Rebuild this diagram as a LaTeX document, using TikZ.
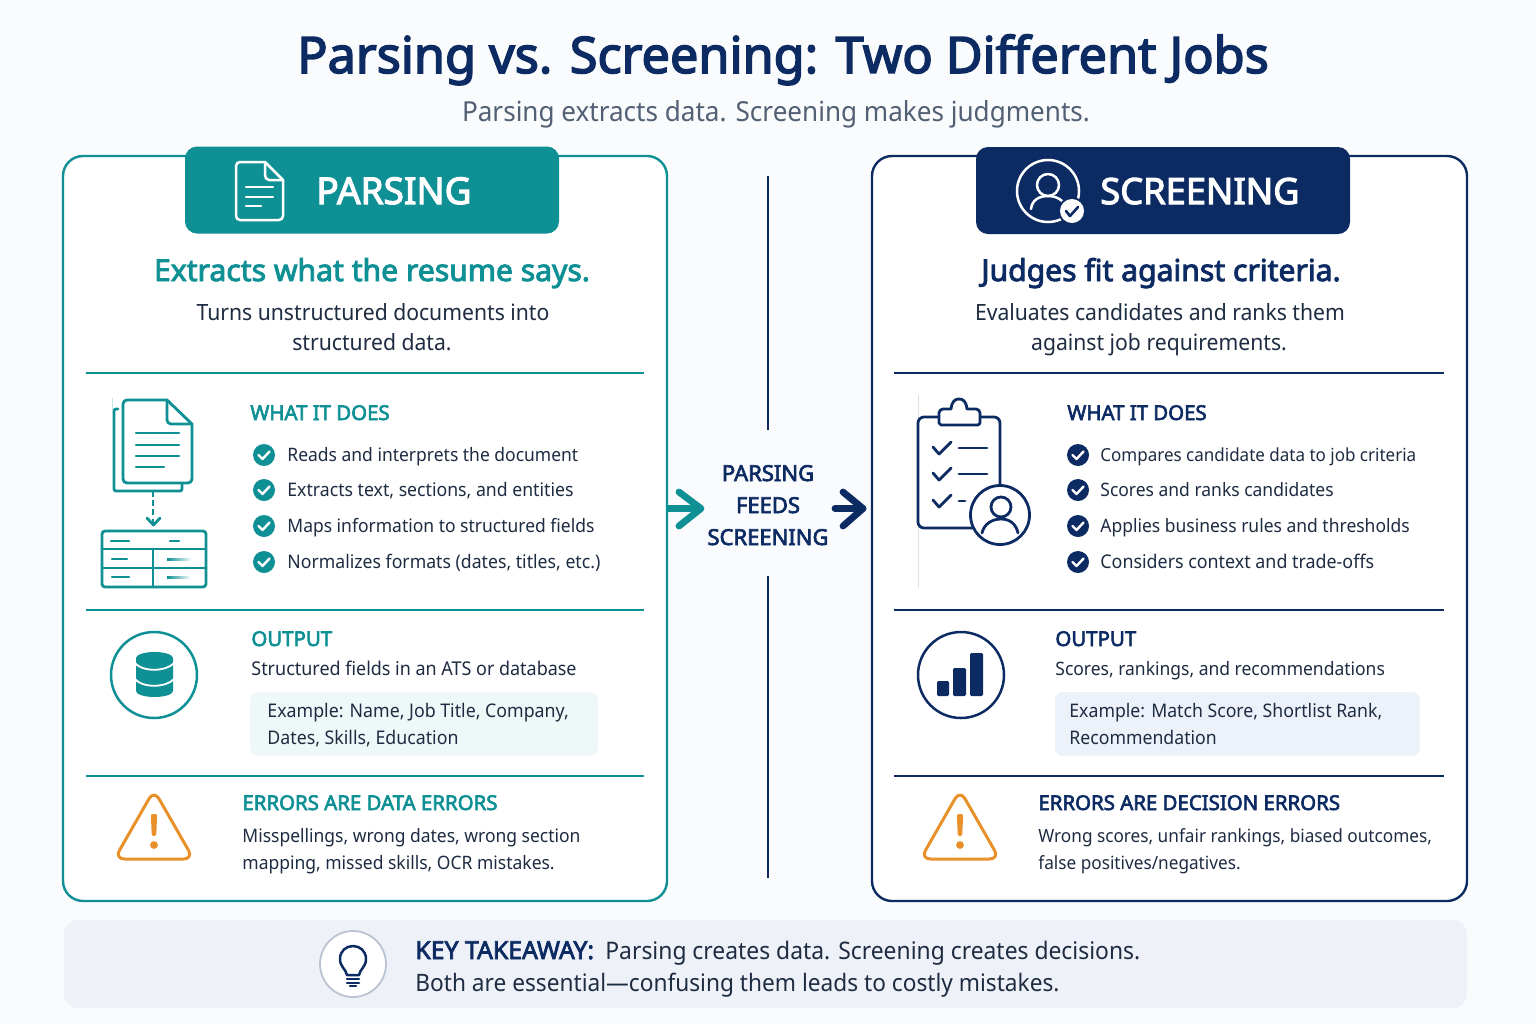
\documentclass[tikz,border=0pt]{standalone}
\usepackage{fontspec}
\setmainfont{Noto Sans}[FakeStretch=0.945,BoldFont={Noto Sans},BoldFeatures={FakeStretch=1,FakeBold=3}]
\definecolor{teal}{HTML}{0E9095}
\definecolor{navy}{HTML}{0D2B63}
\definecolor{ink}{HTML}{1E2C42}
\definecolor{gray1}{HTML}{526074}
\definecolor{warn}{HTML}{E8902A}
\definecolor{bgc}{HTML}{FAFBFD}
\definecolor{ringc}{HTML}{B9C3D1}
\definecolor{boxL}{HTML}{EFF8F8}
\definecolor{boxR}{HTML}{EDF1FA}
\definecolor{foot}{HTML}{EEF2F8}
\newcommand{\px}[1]{\fontsize{\dimexpr#1pt/2\relax}{\dimexpr#1pt*6/10\relax}\selectfont}
\tikzset{
  x=0.5pt,y=-0.5pt,
  txt/.style={anchor=base west,inner sep=0pt,text=ink,font=\px{18.5}},
  ctxt/.style={anchor=base,inner sep=0pt},
  sect/.style={anchor=base west,inner sep=0pt,font=\px{20.4}\bfseries},
  divider/.style={line width=0.6pt},
  panelbox/.style={rectangle,draw,line width=1.2pt,rounded corners=10pt,fill=white,minimum height=372.5pt,inner sep=0pt},
  headbox/.style={rectangle,rounded corners=6pt,inner sep=0pt,minimum height=43.5pt,minimum width=187pt},
  ico/.style={line width=1.4pt,line cap=round,line join=round},
  thin ico/.style={line width=1.25pt,line cap=round,line join=round},
  bigarrow/.style={line width=3.4pt,line cap=round,line join=round},
}
% check bullet: #1 colour, #2 x, #3 y
\newcommand{\bul}[3]{\fill[#1] (#2,#3) circle[radius=11];
  \draw[white,line width=1.2pt,line cap=round,line join=round] (#2-5.5,#3) -- (#2-1.5,#3+4) -- (#2+5.5,#3-3.5);}
% warning icon
\newcommand{\warnicon}[1]{\begin{scope}[xshift=#1*0.5pt]
  \draw[warn,line width=1.5pt,rounded corners=5pt,line join=round] (0,790) -- (39.5,859) -- (-39.5,859) -- cycle;
  \fill[warn,rounded corners=1pt] (-3.2,814) -- (3.2,814) -- (2.2,836) -- (-2.2,836) -- cycle;
  \fill[warn] (0,845) circle[radius=3.9];
\end{scope}}
\begin{document}
\begin{tikzpicture}
\useasboundingbox (0,0) rectangle (1536,1024);
\fill[bgc] (0,0) rectangle (1536,1024);
% title
\node[ctxt,text=navy,font=\px{50.4}\bfseries] (title) at (783,73) {Parsing vs. Screening: Two Different Jobs};
\node[ctxt,text=gray1,font=\px{27.6}] (subtitle) at (776,121) {Parsing extracts data. Screening makes judgments.};
% panels
\node[panelbox,draw=teal,minimum width=302pt] (panelL) at (365,528.5) {};
\node[panelbox,draw=navy,minimum width=297.5pt] (panelR) at (1169.5,528.5) {};
\node[headbox,fill=teal] (headL) at (372,190) {};
\node[headbox,fill=navy] (headR) at (1163,190.5) {};
\node[anchor=base west,inner sep=0pt,text=white,font=\px{37}\bfseries] (headLt) at (316,204) {PARSING};
\node[anchor=base west,inner sep=0pt,text=white,font=\px{36.2}\bfseries] (headRt) at (1100,204) {SCREENING};
% header doc icon
\draw[white,thin ico] (265,162) -- (240,162) to[out=180,in=90] (236,166) -- (236,216) to[out=-90,in=180] (240,220) -- (279,220) to[out=0,in=-90] (283,216) -- (283,180) -- cycle;
\draw[white,thin ico] (265,162) -- (265,175) to[out=-90,in=180] (269,180) -- (283,180);
\draw[white,thin ico] (246,187) -- (273,187) (246,197) -- (273,197) (246,206) -- (261,206);
% header person icon
\draw[white,thin ico] (1048,191) circle[radius=31];
\draw[white,thin ico] (1048,185) circle[radius=11];
\draw[white,thin ico] (1031,209) .. controls (1032,200) and (1039,196) .. (1048,196) .. controls (1054,196) and (1059,198) .. (1062,201);
\fill[navy] (1072,211) circle[radius=14];
\fill[white] (1072,211) circle[radius=12];
\draw[navy,line width=1.3pt,line cap=round,line join=round] (1066,211) -- (1070,216) -- (1078,207);
% headings
\node[ctxt,text=teal,font=\px{30.1}\bfseries] (hL) at (372,281) {Extracts what the resume says.};
\node[ctxt,text=navy,font=\px{30.1}\bfseries] (hR) at (1161,281) {Judges fit against criteria.};
\node[ctxt,text=ink,font=\px{22.4}] (sL1) at (373,320) {Turns unstructured documents into};
\node[ctxt,text=ink,font=\px{22.4}] (sL2) at (372,350) {structured data.};
\node[ctxt,text=ink,font=\px{22.4}] (sR1) at (1160,320) {Evaluates candidates and ranks them};
\node[ctxt,text=ink,font=\px{22.4}] (sR2) at (1159,350) {against job requirements.};
% dividers
\foreach \yy in {373,610,776}{
  \draw[divider,teal] (86,\yy) -- (644,\yy);
  \draw[divider,navy] (894,\yy) -- (1444,\yy);
}
% left what it does
\node[sect,text=teal] (wL) at (250,420) {WHAT IT DOES};
\bul{teal}{264}{455}\bul{teal}{264}{490}\bul{teal}{264}{526}\bul{teal}{264}{562}
\node[txt] (l1) at (287,461) {Reads and interprets the document};
\node[txt,font=\px{18.7}] (l2) at (287,496) {Extracts text, sections, and entities};
\node[txt] (l3) at (287,532) {Maps information to structured fields};
\node[txt,font=\px{18.7}] (l4) at (287,568) {Normalizes formats (dates, titles, etc.)};
% left doc stack icon
\draw[teal!25,line width=0.5pt] (112,398) -- (112,410);
\draw[teal,ico] (118,409) -- (116,409) to[out=180,in=90] (114,411) -- (114,489) to[out=-90,in=180] (116,491) -- (180,491) to[out=0,in=-90] (182,489) -- (182,483);
\draw[teal,ico] (167,400) -- (127,400) to[out=180,in=90] (123,404) -- (123,479) to[out=-90,in=180] (127,483) -- (188,483) to[out=0,in=-90] (192,479) -- (192,424) -- cycle;
\draw[teal,ico] (167,400) -- (167,420) to[out=-90,in=180] (171,424) -- (192,424);
\draw[teal,thin ico] (136,433) -- (179,433) (136,445) -- (179,445) (136,456) -- (179,456) (136,467) -- (164,467);
\coordinate (docB) at (153,491);
\draw[teal,line width=1.3pt,dash pattern=on 3pt off 1.6pt] (docB) -- (153,523);
\draw[teal,ico] (147,518) -- (153.5,525) -- (160,518);
\draw[teal,ico,rounded corners=1.5pt] (102,531) rectangle (206,587);
\draw[teal,ico] (102,549) -- (206,549) (102,568) -- (206,568) (153,549) -- (153,587);
\draw[teal,thin ico] (111,541) -- (129,541) (170,541) -- (179,541) (112,559) -- (127,559) (112,577) -- (129,577);
\shade[left color=teal,right color=white] (167,558) rectangle (192,560);
\shade[left color=teal,right color=white] (167,576) rectangle (191,578);
% left output
\draw[teal,line width=1.25pt] (154,675) circle[radius=43];
\fill[teal] (136,658) arc[start angle=180,end angle=360,x radius=18.5,y radius=6] -- (173,691) arc[start angle=0,end angle=180,x radius=18.5,y radius=6] -- cycle;
\draw[white,line width=0.9pt] (135,663) .. controls (142,672) and (166,672) .. (174,663);
\draw[white,line width=0.9pt] (135,679) .. controls (142,688) and (166,688) .. (174,679);
\node[sect,text=teal] (oL) at (251,646) {OUTPUT};
\node[txt,font=\px{19}] (oL1) at (251,675) {Structured fields in an ATS or database};
\fill[boxL,rounded corners=4pt] (250,692) rectangle (598,756);
\node[txt,font=\px{18.8}] (oL2) at (267,717) {Example: Name, Job Title, Company,};
\node[txt,font=\px{18.8}] (oL3) at (267,744) {Dates, Skills, Education};
% left errors
\warnicon{154}
\node[sect,text=teal] (eL) at (242,810) {ERRORS ARE DATA ERRORS};
\node[txt] (eL1) at (242,842) {Misspellings, wrong dates, wrong section};
\node[txt] (eL2) at (242,869) {mapping, missed skills, OCR mistakes.};
% right what it does
\node[sect,text=navy] (wR) at (1067,420) {WHAT IT DOES};
\bul{navy}{1078}{455}\bul{navy}{1078}{490}\bul{navy}{1078}{526}\bul{navy}{1078}{562}
\node[txt,font=\px{18}] (r1) at (1100,461) {Compares candidate data to job criteria};
\node[txt] (r2) at (1100,496) {Scores and ranks candidates};
\node[txt] (r3) at (1100,532) {Applies business rules and thresholds};
\node[txt,font=\px{18.9}] (r4) at (1100,568) {Considers context and trade-offs};
% clipboard icon
\draw[black!12,line width=0.5pt] (918,395) -- (918,588);
\draw[navy,ico,rounded corners=3pt] (939,417) -- (918,417) -- (918,528) -- (1000,528) -- (1000,417) -- (980,417);
\draw[navy,ico,fill=white] (943,409) -- (951,409) .. controls (952,401) and (955,399) .. (959,399) .. controls (963,399) and (966,401) .. (967,409) -- (976,409) to[out=0,in=90] (980,413) -- (980,423) -- (978,425) -- (941,425) -- (939,423) -- (939,413) to[out=90,in=180] cycle;
\foreach \yy in {447,473,500}{\draw[navy,ico] (933,\yy) -- (939,\yy+7) -- (951,\yy-5);}
\draw[navy,ico] (959,448) -- (987,448) (959,474) -- (987,474) (959,501) -- (965,501);
\draw[navy,ico,fill=white] (1000,515) circle[radius=29.5];
\draw[navy,ico] (1001,507) circle[radius=10];
\draw[navy,ico] (982,533) .. controls (984,524) and (992,519) .. (1001,519) .. controls (1010,519) and (1016,524) .. (1018,533);
% right output
\draw[navy,line width=1.25pt] (961,675) circle[radius=43];
\fill[navy,rounded corners=0.7pt] (937,681) rectangle (949,696);
\fill[navy,rounded corners=0.7pt] (953,668) rectangle (966,696);
\fill[navy,rounded corners=0.7pt] (970,653) rectangle (983,696);
\node[sect,text=navy] (oR) at (1055,646) {OUTPUT};
\node[txt] (oR1) at (1055,675) {Scores, rankings, and recommendations};
\fill[boxR,rounded corners=4pt] (1055,692) rectangle (1420,756);
\node[txt,font=\px{18.7}] (oR2) at (1069,717) {Example: Match Score, Shortlist Rank,};
\node[txt,font=\px{18.7}] (oR3) at (1069,744) {Recommendation};
% right errors
\warnicon{960}
\node[sect,text=navy] (eR) at (1038,810) {ERRORS ARE DECISION ERRORS};
\node[txt,font=\px{18.2}] (eR1) at (1038,842) {Wrong scores, unfair rankings, biased outcomes,};
\node[txt,font=\px{18.2}] (eR2) at (1038,869) {false positives/negatives.};
% centre
\coordinate (vt1) at (768,176); \coordinate (vb1) at (768,430);
\coordinate (vt2) at (768,576); \coordinate (vb2) at (768,878);
\draw[navy,line width=1.1pt] (vt1) -- (vb1);
\draw[navy,line width=1.1pt] (vt2) -- (vb2);
\node[ctxt,text=navy,font=\px{22}\bfseries] (c1) at (768,481) {PARSING};
\node[ctxt,text=navy,font=\px{22}\bfseries] (c2) at (768,513) {FEEDS};
\node[ctxt,text=navy,font=\px{22}\bfseries] (c3) at (768,545) {SCREENING};
\coordinate (tipL) at (701,508.5); \coordinate (tailR) at (835,508.5); \coordinate (tipR) at (863,508.5);
\draw[teal,bigarrow,line cap=butt] (panelL.east |- tipL) -- (tipL);
\draw[teal,bigarrow] (679,492) -- (tipL) -- (679,526);
\draw[navy,bigarrow] (tailR) -- (tipR);
\draw[navy,bigarrow] (843,492) -- (tipR) -- (843,526);
% footer
\fill[foot,rounded corners=7pt] (64,920) rectangle (1467,1008);
\draw[ringc,line width=0.9pt,fill=white] (353,964) circle[radius=33];
\draw[navy,thin ico] (347,975) .. controls (346,969) and (340,967) .. (340,959) .. controls (340,951) and (346,946) .. (353,946) .. controls (360,946) and (366,951) .. (366,959) .. controls (366,967) and (360,969) .. (359,975) -- cycle;
\draw[navy,thin ico] (347,979) -- (359,979) (347,983) -- (359,983) (350,986) -- (356,986);
\node[anchor=base west,inner sep=0pt,text=navy,font=\px{24.8}\bfseries] (k1) at (415,959) {KEY TAKEAWAY:};
\node[anchor=base west,inner sep=0pt,text=ink,font=\px{24.2}] (k2) at (605,959) {Parsing creates data. Screening creates decisions.};
\node[anchor=base west,inner sep=0pt,text=ink,font=\px{24}] (k3) at (415,991) {Both are essential—confusing them leads to costly mistakes.};
\end{tikzpicture}
\end{document}
